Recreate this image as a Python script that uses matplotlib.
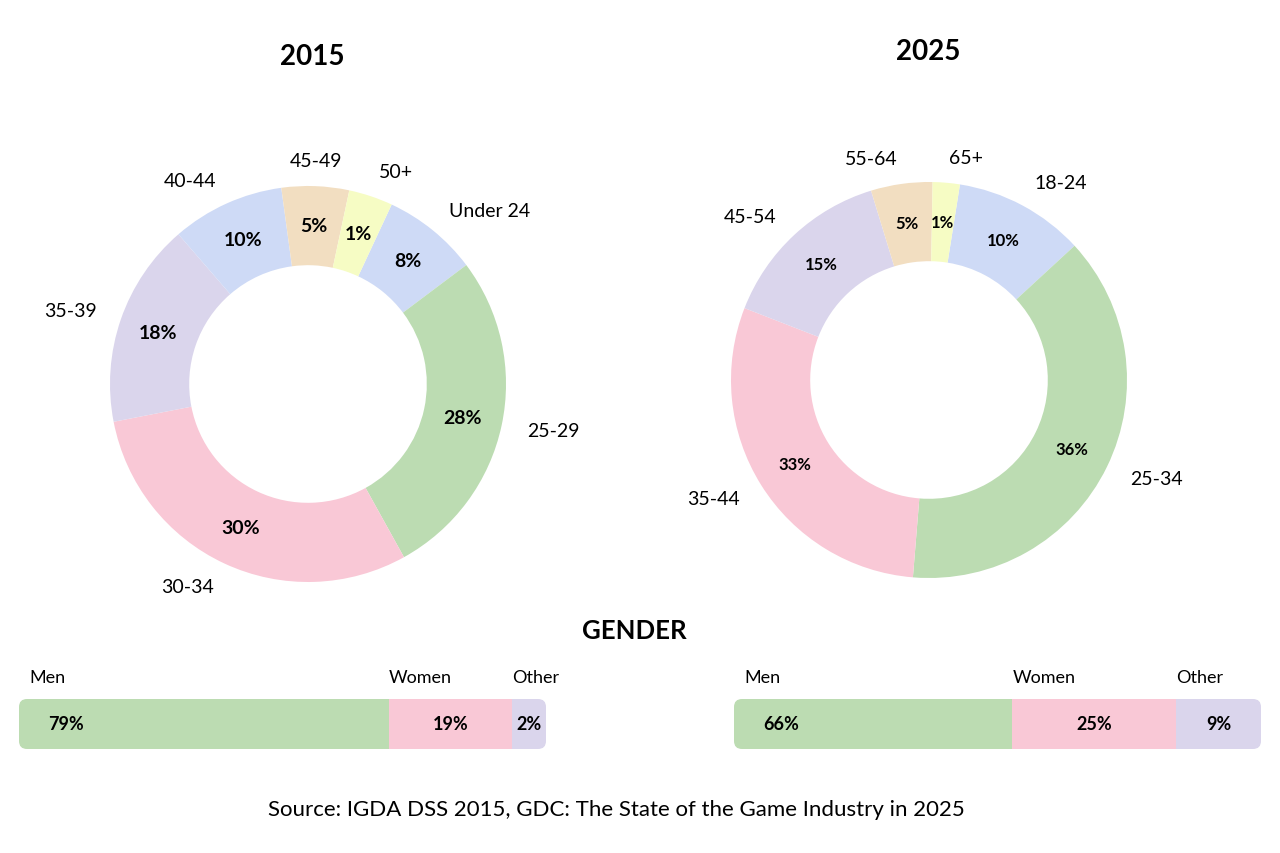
import numpy as np
import matplotlib.pyplot as plt
from matplotlib.patches import FancyBboxPatch

plt.rcParams['font.family'] = ['Lato', 'DejaVu Sans']

GREEN = "#BCDCB2"
PINK = "#F9C8D6"
LAVENDER = "#DAD5EC"
BLUE = "#CEDAF6"
PEACH = "#F2DEC1"
YELLOW = "#F6FCC4"

# age groups, clockwise from the top right
ages_2015 = ["Under 24", "25-29", "30-34", "35-39", "40-44", "45-49", "50+"]
share_2015 = [7.8, 27.2, 30.0, 16.7, 9.2, 5.5, 3.6]   # slice sizes as drawn
pct_2015 = ["8%", "28%", "30%", "18%", "10%", "5%", "1%"]
colors_2015 = [BLUE, GREEN, PINK, LAVENDER, BLUE, PEACH, YELLOW]

ages_2025 = ["18-24", "25-34", "35-44", "45-54", "55-64", "65+"]
share_2025 = [10.6, 38.0, 29.5, 14.3, 5.0, 2.2]
pct_2025 = ["10%", "36%", "33%", "15%", "5%", "1%"]
colors_2025 = [BLUE, GREEN, PINK, LAVENDER, PEACH, YELLOW]

genders = ["Men", "Women", "Other"]
gender_share_2015 = [70.2, 23.4, 6.4]
gender_pct_2015 = ["79%", "19%", "2%"]
gender_share_2025 = [52.8, 31.1, 16.1]
gender_pct_2025 = ["66%", "25%", "9%"]
gender_colors = [GREEN, PINK, LAVENDER]

W, H = 1280, 854
fig = plt.figure(figsize=(W / 100, H / 100), dpi=100)


def px_rect(x0, y0, w, h):
    # pixel box (top-left origin) -> figure fraction rect
    return [x0 / W, 1 - (y0 + h) / H, w / W, h / H]


def draw_donut(cx, cy, shares, ages, pcts, colors, start, pct_size):
    R = 198
    lim = 1.5
    side = 2 * lim * R
    ax = fig.add_axes(px_rect(cx - side / 2, cy - side / 2, side, side))
    wedges, _ = ax.pie(shares, colors=colors, startangle=start, counterclock=False,
                       radius=1, wedgeprops=dict(width=0.4, linewidth=0))
    for w, age, pct in zip(wedges, ages, pcts):
        mid = np.deg2rad((w.theta1 + w.theta2) / 2)
        ax.text(0.8 * np.cos(mid), 0.8 * np.sin(mid), pct, ha="center", va="center",
                fontsize=pct_size, fontweight="bold", color="black")
        lx, ly = 1.13 * np.cos(mid), 1.13 * np.sin(mid)
        if abs(lx) < 0.07:
            ha = "center"
        else:
            ha = "left" if lx > 0 else "right"
        ax.text(lx, ly, age, ha=ha, va="center", fontsize=14, color="black")
    ax.set_xlim(-lim, lim)
    ax.set_ylim(-lim, lim)
    ax.set_aspect("equal")
    ax.axis("off")


def draw_gender(x0, y0, w, h, shares, pcts):
    ax = fig.add_axes(px_rect(x0, y0, w, h))
    ax.set_xlim(0, 100)
    ax.set_ylim(0, 1)
    ax.axis("off")
    lefts = np.concatenate([[0], np.cumsum(shares)[:-1]])
    bars = ax.barh(0.5, shares, left=lefts, height=1, color=gender_colors, linewidth=0)
    r = 8 * 100 / w
    clip = FancyBboxPatch((0, 0), 100, 1, boxstyle=f"round,pad=0,rounding_size={r}",
                          mutation_aspect=w / (100 * h), transform=ax.transData)
    for b in bars:
        b.set_clip_path(clip)
    for i, (name, left, share, pct) in enumerate(zip(genders, lefts, shares, pcts)):
        off = 2 if i == 0 else 0
        ax.text(left + off, 1.44, name, ha="left", va="center", fontsize=13, clip_on=False)
        if i == 0:
            ax.text(left + 29 * 100 / w, 0.5, pct, ha="left", va="center",
                    fontsize=13, fontweight="bold")
        else:
            ax.text(left + share / 2, 0.5, pct, ha="center", va="center",
                    fontsize=13, fontweight="bold")


draw_donut(308, 385, share_2015, ages_2015, pct_2015, colors_2015, 65, 14)
draw_donut(929, 381, share_2025, ages_2025, pct_2025, colors_2025, 81, 12)

fig.text(312 / W, 1 - 57 / H, "2015", ha="center", va="center", fontsize=20, fontweight="bold")
fig.text(928 / W, 1 - 52 / H, "2025", ha="center", va="center", fontsize=20, fontweight="bold")
fig.text(634 / W, 1 - 631 / H, "GENDER", ha="center", va="center", fontsize=18.5, fontweight="bold")

draw_gender(19, 700, 527, 50, gender_share_2015, gender_pct_2015)
draw_gender(734, 700, 527, 50, gender_share_2025, gender_pct_2025)

fig.text(616 / W, 1 - 810 / H, "Source: IGDA DSS 2015, GDC: The State of the Game Industry in 2025",
         ha="center", va="center", fontsize=16)

fig.savefig("out.png", dpi=100, facecolor="white")
